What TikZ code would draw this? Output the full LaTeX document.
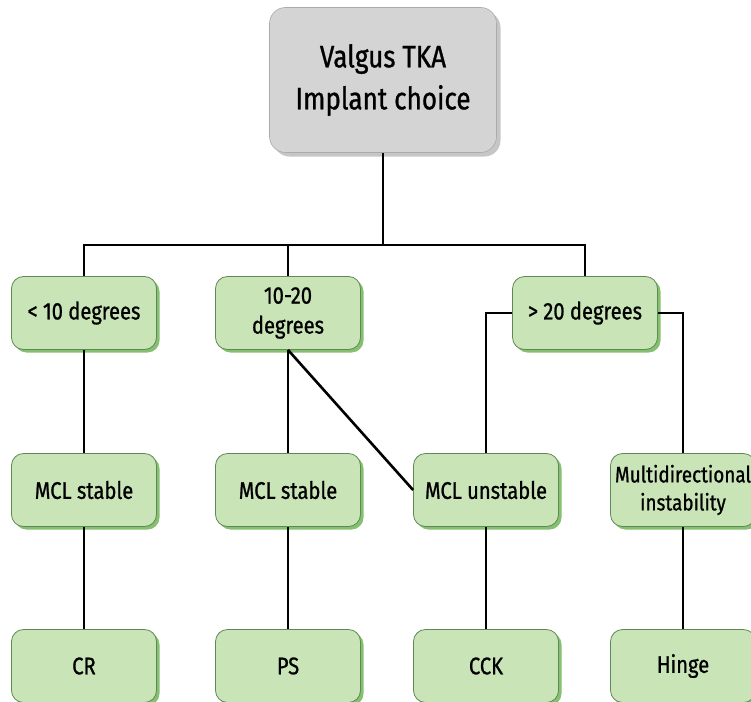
\documentclass[tikz,border=0pt]{standalone}
\usepackage{fontspec}
\setmainfont{Fira Sans}[FakeStretch=0.84, FakeBold=0.9]
\usepackage{tikz}
\usepackage{xcolor}
\usetikzlibrary{shadows}
\definecolor{boxgreen}{RGB}{201,228,182}
\definecolor{edgegreen}{RGB}{96,136,84}
\definecolor{shadegreen}{RGB}{132,192,112}
\definecolor{boxgray}{RGB}{212,212,212}

\begin{document}
\begin{tikzpicture}[x=1pt, y=-1pt,
    choice/.style={draw=edgegreen, fill=boxgreen, rounded corners=12pt, line width=0.8pt,
        minimum width=145pt, minimum height=73pt, inner xsep=4pt, align=center,
        font=\fontsize{24}{30}\selectfont,
        drop shadow={shadow xshift=3pt, shadow yshift=-3pt, fill=shadegreen, opacity=1}},
    head/.style={draw=boxgray!80!black, fill=boxgray, rounded corners=16pt, line width=0.6pt,
        minimum width=227pt, minimum height=145pt, align=center,
        font=\fontsize{31}{42}\selectfont,
        drop shadow={shadow xshift=4pt, shadow yshift=-4pt, fill=gray, opacity=0.45}},
    link/.style={line width=2.6pt, black}]
    \useasboundingbox (0,0) rectangle (751,701);

    % Root
    \node[head] (root) at (383,80) {Valgus TKA\\Implant choice};

    % Angle of deformity
    \node[choice] (lt)  at (84,313)  {< 10 degrees};
    \node[choice] (mid) at (288,313) {10-20\\degrees};
    \node[choice] (gt)  at (585,313) {> 20 degrees};

    % Ligament state
    \node[choice] (stA)   at (84,490)  {MCL stable};
    \node[choice] (stB)   at (288,490) {MCL stable};
    \node[choice] (unst)  at (486,490) {MCL unstable};
    \node[choice, font=\fontsize{22.5}{28}\selectfont] (multi) at (683,490) {Multidirectional\\instability};

    % Implant
    \node[choice] (cr)    at (84,666)  {CR};
    \node[choice] (ps)    at (288,666) {PS};
    \node[choice] (cck)   at (486,666) {CCK};
    \node[choice] (hinge) at (683,666) {Hinge};

    % Connectors
    \coordinate (bus) at (383,245);
    \draw[link] (root.south) -- (bus);
    \draw[link] (lt.north) |- (bus) -| (gt.north);
    \draw[link] (mid.north) -- (mid.north |- bus);
    \draw[link] (lt.south) -- (stA.north);
    \draw[link] (mid.south) -- (stB.north);
    \draw[link] (mid.south) -- (unst.west);
    \draw[link] (gt.west) -| (unst.north);
    \draw[link] (gt.east) -| (multi.north);
    \draw[link] (stA.south) -- (cr.north);
    \draw[link] (stB.south) -- (ps.north);
    \draw[link] (unst.south) -- (cck.north);
    \draw[link] (multi.south) -- (hinge.north);
\end{tikzpicture}
\end{document}
